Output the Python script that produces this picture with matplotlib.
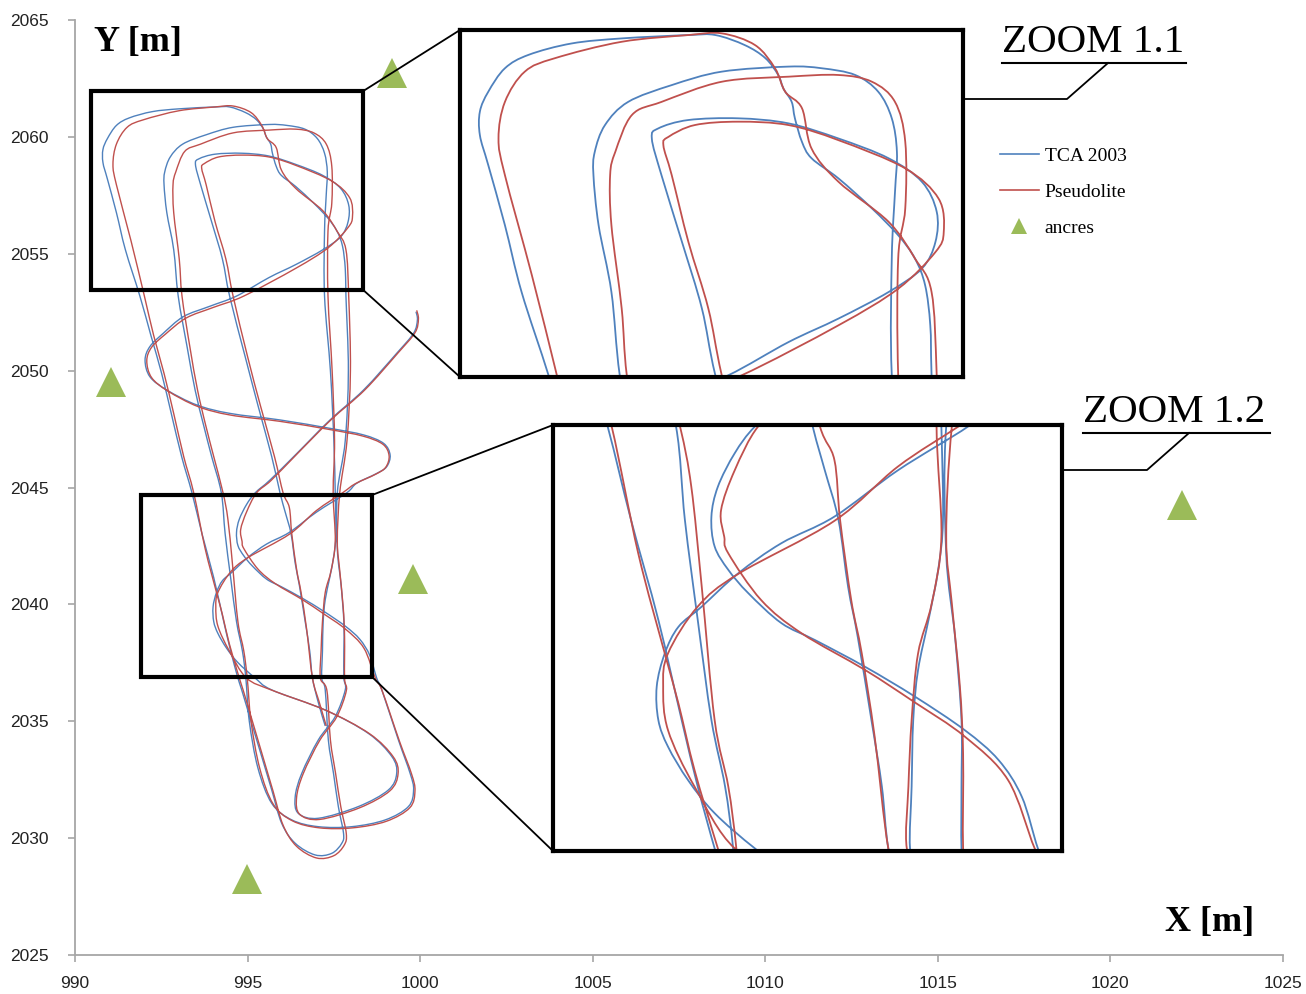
import numpy as np
import matplotlib
matplotlib.use('Agg')
import matplotlib.pyplot as plt
from matplotlib.path import Path
from matplotlib.patches import PathPatch, Rectangle, ConnectionPatch
from matplotlib.lines import Line2D

# ---- data ----
# TCA 2003 trajectory, in driving order
tca_pts = [
    # start hook, diagonal down-left, S curve, right lobe at the bottom
    (999.88, 2052.52), (999.92, 2052.17), (999.81, 2051.60), (999.32, 2050.74), (998.36, 2049.17),
    (997.39, 2047.89), (996.43, 2046.46), (995.65, 2045.32), (995.22, 2044.77), (994.97, 2044.27),
    (994.76, 2043.64), (994.68, 2043.08), (994.72, 2042.52), (994.89, 2042.08), (995.14, 2041.64),
    (995.55, 2041.08), (995.97, 2040.76), (996.59, 2040.26), (997.21, 2039.70), (997.83, 2039.07),
    (998.25, 2038.51), (998.54, 2037.82), (998.74, 2036.85), (998.89, 2036.34), (999.37, 2034.20),
    (999.71, 2032.77), (999.81, 2032.06), (999.66, 2031.35), (998.99, 2030.78), (998.02, 2030.49),
    (997.05, 2030.49), (996.28, 2030.78), (995.70, 2031.49), (995.30, 2033.00), (995.05, 2035.00),
    # up, middle lap
    (994.95, 2036.85), (994.85, 2038.01), (994.68, 2039.26), (994.51, 2041.14), (994.35, 2043.02),
    (994.24, 2044.77), (993.96, 2046.32), (993.72, 2047.70), (993.48, 2049.17), (993.25, 2051.00),
    (992.99, 2053.19), (992.86, 2055.17), (992.66, 2056.76), (992.58, 2057.95), (992.60, 2058.50),
    (992.76, 2059.14), (993.12, 2059.69), (993.80, 2060.09), (994.58, 2060.41), (995.62, 2060.53),
    (996.14, 2060.49), (996.66, 2060.33), (997.02, 2059.93), (997.23, 2059.30), (997.31, 2058.50),
    (997.28, 2057.55), (997.23, 2055.97), (997.23, 2053.19), (997.40, 2050.00), (997.50, 2047.00),
    (997.54, 2044.77), (997.56, 2043.02), (997.50, 2042.08), (997.38, 2041.14), (997.25, 2040.20),
    (997.19, 2039.26), (997.17, 2038.01), (997.15, 2036.85),
    # bottom toe
    (997.25, 2036.34), (997.34, 2034.20), (997.49, 2032.77), (997.63, 2031.35), (997.78, 2030.21),
    (997.73, 2029.78), (997.44, 2029.35), (996.96, 2029.28), (996.38, 2029.78), (995.99, 2030.63),
    (995.70, 2032.06), (995.41, 2033.49), (995.12, 2034.91), (994.83, 2036.34),
    # up, outer lap
    (994.72, 2036.85), (994.51, 2038.01), (994.31, 2039.26), (994.02, 2041.14), (993.68, 2043.02),
    (993.39, 2044.77), (993.09, 2046.32), (992.80, 2048.10), (992.51, 2049.88), (992.20, 2051.50),
    (991.88, 2053.19), (991.46, 2055.17), (991.20, 2056.76), (990.94, 2058.19), (990.81, 2058.90),
    (990.81, 2059.46), (990.94, 2059.93), (991.20, 2060.49), (991.57, 2060.81), (992.24, 2061.08),
    (993.02, 2061.20), (994.06, 2061.28), (994.48, 2061.28), (994.94, 2061.04), (995.26, 2060.73),
    (995.46, 2060.33), (995.54, 2060.01), (995.67, 2059.69), (995.72, 2059.30), (995.83, 2058.74),
    (995.98, 2058.35), (996.40, 2057.87), (996.92, 2057.16), (997.33, 2056.52), (997.59, 2055.97),
    (997.75, 2055.33), (997.83, 2054.38), (997.85, 2053.19), (997.92, 2050.00), (997.83, 2047.00),
    (997.60, 2044.77), (997.60, 2042.39), (997.71, 2040.82), (997.79, 2039.26), (997.79, 2038.01),
    (997.79, 2036.85),
    # small lobe at the bottom, then back up
    (997.83, 2036.34), (997.54, 2035.20), (997.05, 2034.20), (996.57, 2032.77), (996.38, 2031.77),
    (996.47, 2031.06), (997.05, 2030.85), (998.21, 2031.35), (999.08, 2032.06), (999.32, 2032.77),
    (999.18, 2033.49), (998.50, 2034.48), (997.25, 2035.48), (995.70, 2036.34), (995.22, 2036.85),
    (994.72, 2037.51), (994.39, 2038.13), (994.14, 2038.76), (994.02, 2039.26), (994.00, 2039.89),
    (994.10, 2040.51), (994.27, 2041.01), (994.56, 2041.39), (995.01, 2042.01), (995.55, 2042.58),
    (996.21, 2043.08), (997.00, 2043.95), (997.87, 2044.77),
    # loop to the left
    (998.16, 2045.18), (998.74, 2045.60), (999.03, 2045.89), (999.13, 2046.39), (998.94, 2046.89),
    (998.36, 2047.25), (997.39, 2047.53), (995.94, 2047.89), (994.49, 2048.17), (993.53, 2048.53),
    (992.66, 2049.17), (992.17, 2049.74), (992.03, 2050.45), (992.17, 2051.03), (992.56, 2051.60),
    (993.14, 2052.31), (993.90, 2052.75), (994.68, 2053.19),
    # inner lap, then down to the end
    (995.62, 2053.98), (996.40, 2054.54), (997.18, 2055.17), (997.70, 2055.73), (997.91, 2056.36),
    (997.93, 2057.08), (997.70, 2057.79), (997.18, 2058.35), (996.40, 2058.82), (995.62, 2059.18),
    (994.84, 2059.30), (994.06, 2059.26), (993.59, 2059.06), (993.49, 2058.82), (993.64, 2057.95),
    (993.96, 2056.36), (994.27, 2054.78), (994.48, 2053.19), (994.93, 2050.60), (995.31, 2048.46),
    (995.70, 2046.32), (995.94, 2044.77), (996.09, 2043.95), (996.26, 2043.02), (996.38, 2041.76),
    (996.50, 2040.82), (996.67, 2039.26), (996.80, 2038.01), (996.88, 2036.85), (997.05, 2035.80),
    (997.25, 2034.80),
]

# Pseudolite trajectory
pseudo_pts = [
    (999.90, 2052.58), (999.95, 2052.20), (999.85, 2051.62), (999.36, 2050.76), (998.40, 2049.18),
    (997.42, 2047.90), (996.45, 2046.46), (995.68, 2045.30), (995.26, 2044.77), (994.97, 2043.95),
    (994.80, 2043.20), (994.84, 2042.70), (994.89, 2042.39), (995.30, 2041.51), (995.80, 2040.89),
    (996.59, 2040.20), (997.20, 2039.60), (997.83, 2038.95), (998.37, 2038.13), (998.70, 2036.85),
    (998.90, 2036.30), (999.40, 2034.15), (999.75, 2032.75), (999.85, 2032.02), (999.70, 2031.30),
    (999.02, 2030.72), (998.05, 2030.44), (997.08, 2030.44), (996.30, 2030.74), (995.74, 2031.46),
    (995.35, 2033.00), (995.10, 2035.00),
    (994.99, 2036.85), (994.89, 2038.01), (994.72, 2039.26), (994.56, 2041.76), (994.43, 2043.64),
    (994.29, 2044.77), (994.02, 2046.32), (993.78, 2047.70), (993.55, 2049.17), (993.33, 2051.00),
    (993.10, 2053.19), (993.02, 2054.78), (992.86, 2056.76), (992.84, 2057.95), (992.92, 2058.50),
    (993.18, 2059.38), (993.64, 2059.69), (994.58, 2060.17), (995.62, 2060.29), (996.40, 2060.33),
    (996.92, 2060.17), (997.28, 2059.69), (997.44, 2058.74), (997.44, 2057.16), (997.33, 2055.97),
    (997.33, 2053.19), (997.45, 2050.00), (997.52, 2047.00), (997.48, 2044.77), (997.54, 2042.70),
    (997.42, 2041.45), (997.25, 2040.51), (997.17, 2039.26), (997.13, 2038.01), (997.11, 2036.85),
    (997.30, 2036.30), (997.40, 2034.20), (997.55, 2032.77), (997.70, 2031.35), (997.86, 2030.20),
    (997.80, 2029.70), (997.50, 2029.25), (997.00, 2029.15), (996.42, 2029.65), (996.03, 2030.55),
    (995.74, 2032.00), (995.45, 2033.45), (995.16, 2034.90), (994.87, 2036.34),
    (994.76, 2036.85), (994.47, 2038.32), (994.27, 2039.57), (994.10, 2040.51), (993.77, 2042.39),
    (993.44, 2044.77), (993.15, 2046.32), (992.87, 2048.10), (992.58, 2049.88), (992.28, 2051.50),
    (992.01, 2053.19), (991.62, 2055.57), (991.20, 2057.95), (991.10, 2058.82), (991.20, 2059.69),
    (991.51, 2060.41), (991.98, 2060.73), (993.02, 2061.12), (994.06, 2061.28), (994.58, 2061.32),
    (995.10, 2061.04), (995.41, 2060.49), (995.57, 2059.93), (995.83, 2059.54), (995.98, 2058.58),
    (996.40, 2057.79), (997.18, 2056.84), (997.59, 2055.97), (997.85, 2055.17), (997.93, 2053.19),
    (997.98, 2050.00), (997.88, 2047.00), (997.67, 2044.77), (997.60, 2042.70), (997.67, 2041.45),
    (997.77, 2039.89), (997.81, 2038.63), (997.81, 2036.85),
    (997.86, 2036.30), (997.58, 2035.18), (997.09, 2034.18), (996.61, 2032.75), (996.42, 2031.74),
    (996.51, 2031.02), (997.09, 2030.80), (998.25, 2031.30), (999.12, 2032.02), (999.36, 2032.75),
    (999.22, 2033.48), (998.54, 2034.46), (997.28, 2035.46), (995.72, 2036.32), (994.97, 2036.85),
    (994.47, 2038.01), (994.14, 2039.07), (994.08, 2039.89), (994.14, 2040.51), (994.51, 2041.39),
    (995.01, 2042.00), (996.21, 2043.00), (997.00, 2044.02), (997.75, 2044.77),
    (998.12, 2045.16), (998.70, 2045.56), (999.00, 2045.86), (999.10, 2046.36), (998.92, 2046.85),
    (998.34, 2047.20), (997.38, 2047.48), (995.94, 2047.83), (994.50, 2048.10), (993.55, 2048.47),
    (992.70, 2049.12), (992.22, 2049.70), (992.08, 2050.42), (992.22, 2051.00), (992.62, 2051.56),
    (993.22, 2052.25), (994.00, 2052.70), (994.89, 2053.19),
    (996.40, 2054.38), (997.33, 2055.25), (997.91, 2056.12), (998.04, 2056.60), (997.96, 2057.39),
    (997.44, 2058.11), (996.40, 2058.78), (995.62, 2059.14), (994.84, 2059.22), (994.16, 2059.14),
    (993.75, 2058.86), (993.67, 2058.66), (993.80, 2057.95), (994.06, 2056.36), (994.37, 2054.78),
    (994.58, 2053.19), (995.00, 2050.60), (995.38, 2048.46), (995.78, 2046.32), (996.03, 2044.77),
    (996.21, 2044.14), (996.28, 2043.02), (996.42, 2041.50), (996.55, 2040.51), (996.71, 2038.95),
    (996.88, 2036.85), (997.08, 2035.80), (997.28, 2034.80),
]

anchor_x = [999.19, 991.04, 999.80, 994.99, 1022.06]
anchor_y = [2062.75, 2049.51, 2041.09, 2028.25, 2044.25]

x_ticks = [990, 995, 1000, 1005, 1010, 1015, 1020, 1025]
y_ticks = [2025, 2030, 2035, 2040, 2045, 2050, 2055, 2060, 2065]

# zoom windows shown as boxes (x0, y0, x1, y1) and what the insets display
box_11 = (990.46, 2053.45, 998.35, 2061.96)
box_12 = (991.91, 2036.89, 998.61, 2044.68)
inset_11_lim = (990.50, 998.34, 2053.15, 2061.40)
inset_12_lim = (992.71, 999.04, 2036.80, 2044.80)

BLUE = '#4F81BD'
RED = '#C0504D'
GREEN = '#9BBB59'
GREY = '#A6A6A6'

W, H = 1306, 994


def fpos(x, y):
    # pixel position -> figure fraction
    return x / W, 1 - y / H


def smooth(pts):
    # catmull-rom through the waypoints, drawn as cubic beziers
    p = np.asarray(pts, dtype=float)
    n = len(p)
    verts = [p[0]]
    codes = [Path.MOVETO]
    for i in range(n - 1):
        p0 = p[max(i - 1, 0)]
        p1 = p[i]
        p2 = p[i + 1]
        p3 = p[min(i + 2, n - 1)]
        verts += [p1 + (p2 - p0) / 6, p2 - (p3 - p1) / 6, p2]
        codes += [Path.CURVE4] * 3
    return Path(verts, codes)


def draw_tracks(ax, lw):
    ax.add_patch(PathPatch(smooth(tca_pts), fill=False, edgecolor=BLUE, lw=lw))
    ax.add_patch(PathPatch(smooth(pseudo_pts), fill=False, edgecolor=RED, lw=lw))


serif = ['Liberation Serif', 'DejaVu Serif']
narrow = ['Liberation Sans Narrow', 'Liberation Sans', 'DejaVu Sans']

fig = plt.figure(figsize=(13.06, 9.94), dpi=100)
ax = fig.add_axes([75 / W, 39 / H, 1208 / W, 935 / H])
ax.set_xlim(990, 1025)
ax.set_ylim(2025, 2065)
draw_tracks(ax, 1.0)
ax.plot(anchor_x, anchor_y, linestyle='none', marker='^', markersize=22,
        color=GREEN, markeredgewidth=0, zorder=5)

for s in ['top', 'right']:
    ax.spines[s].set_visible(False)
for s in ['left', 'bottom']:
    ax.spines[s].set_color(GREY)
    ax.spines[s].set_linewidth(1.3)
ax.set_xticks(x_ticks)
ax.set_yticks(y_ticks)
ax.tick_params(axis='both', colors=GREY, length=5, width=1.2, labelcolor='#222222')
ax.tick_params(axis='y', pad=14)
ax.tick_params(axis='x', pad=10)
for lab in ax.get_xticklabels() + ax.get_yticklabels():
    lab.set_family(narrow)
    lab.set_fontsize(12.5)

# zoom boxes
for b in [box_11, box_12]:
    ax.add_patch(Rectangle((b[0], b[1]), b[2] - b[0], b[3] - b[1], fill=False,
                           edgecolor='black', lw=3, zorder=6))

# insets
ins11 = fig.add_axes([*fpos(460, 377), 503 / W, 347 / H])
ins12 = fig.add_axes([*fpos(553, 851), 509 / W, 426 / H])
for ins, lim in [(ins11, inset_11_lim), (ins12, inset_12_lim)]:
    ins.set_xlim(lim[0], lim[1])
    ins.set_ylim(lim[2], lim[3])
    draw_tracks(ins, 1.3)
    ins.set_xticks([])
    ins.set_yticks([])
    for s in ins.spines.values():
        s.set_linewidth(3)
        s.set_color('black')

# connectors box -> inset
for b, ins in [(box_11, ins11), (box_12, ins12)]:
    for yb, yi in [(b[3], 1), (b[1], 0)]:
        con = ConnectionPatch(xyA=(b[2], yb), coordsA=ax.transData,
                              xyB=(0, yi), coordsB=ins.transAxes,
                              color='black', lw=1.3)
        fig.add_artist(con)

# zoom titles with underline and leader
for txt, tx, ty, ux0, ux1, uy, hx0, hx1, hy, dx in [
        ('ZOOM 1.1', 1002, 52, 1002, 1186, 63, 963, 1067, 99, 1108),
        ('ZOOM 1.2', 1083, 422, 1083, 1270, 433, 1062, 1147, 470, 1189)]:
    fig.text(*fpos(tx, ty), txt, family=serif, fontsize=29.5, va='baseline', ha='left')
    fig.add_artist(Line2D([ux0 / W, ux1 / W], [1 - uy / H, 1 - uy / H], color='black', lw=1.5))
    fig.add_artist(Line2D([hx0 / W, hx1 / W, dx / W], [1 - hy / H, 1 - hy / H, 1 - uy / H],
                          color='black', lw=1.3))

# axis titles
fig.text(*fpos(138, 43), 'Y [m]', family=serif, fontsize=26, fontweight='bold',
         ha='center', va='center')
fig.text(*fpos(1210, 922), 'X [m]', family=serif, fontsize=26, fontweight='bold',
         ha='center', va='center')

# legend
handles = [Line2D([], [], color=BLUE, lw=1.2),
           Line2D([], [], color=RED, lw=1.2),
           Line2D([], [], color=GREEN, linestyle='none', marker='^', markersize=11,
                  markeredgewidth=0)]
ax.legend(handles, ['TCA 2003', 'Pseudolite', 'ancres'], loc='upper left',
          bbox_to_anchor=fpos(1000, 147), bbox_transform=fig.transFigure,
          frameon=False, prop={'family': serif, 'size': 14},
          handlelength=2.0, handletextpad=0.3, labelspacing=0.95,
          borderpad=0, borderaxespad=0)

fig.savefig('out.png', dpi=100)
